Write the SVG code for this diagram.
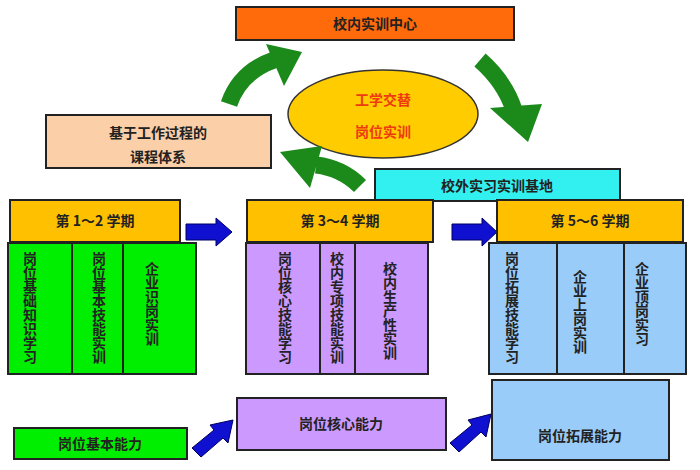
<svg xmlns="http://www.w3.org/2000/svg" width="700" height="470" viewBox="0 0 700 470">
<style>
rect{stroke:#222;stroke-width:2}
text{font-family:"Noto Sans CJK SC","Liberation Sans",sans-serif;font-weight:bold;fill:#222;text-anchor:middle}
.h{font-size:14px}
.v{font-size:14px;writing-mode:vertical-rl;text-anchor:start}
.g{fill:#1b8a1b;stroke:none}
.gs{fill:none;stroke:#1b8a1b;stroke-width:17}
.b{fill:#1010d0;stroke:#000060;stroke-width:1}
</style>
<rect width="700" height="470" style="fill:#fff;stroke:none"/>
<g id="center"><rect x="236" y="7" width="278" height="33" fill="#ff6a0a"/><text class="h" x="375" y="29">校内实训中心</text></g>
<g id="ellipse"><ellipse cx="383" cy="114" rx="95" ry="44" fill="#ffcc00" stroke="#333" stroke-width="1.5"/><text class="h" x="383" y="105" style="fill:#ee3a10">工学交替</text><text class="h" x="383" y="137" style="fill:#ee3a10">岗位实训</text></g>
<g id="course"><rect x="46" y="115" width="225" height="53" fill="#fbcfa8"/><text class="h" x="158" y="138">基于工作过程的</text><text class="h" x="158" y="162">课程体系</text></g>
<g id="outside"><rect x="375" y="169" width="245" height="32" fill="#33f0f0"/><text class="h" x="497" y="191">校外实习实训基地</text></g>
<g id="connectors">
<path class="gs" d="M229 104 Q240 72 274 60"/><polygon class="g" points="302,52 266,44 284,86"/>
<path class="gs" d="M480 60 Q505 82 514 110"/><polygon class="g" points="490,108 542,104 528,142"/>
<path class="gs" d="M360 186 Q342 168 316 165"/><polygon class="g" points="280,152 322,146 310,188"/>
<polygon class="b" points="186,224 216,224 216,218 232,232 216,246 216,240 186,240"/>
<polygon class="b" points="452,224 482,224 482,218 497,232 482,246 482,240 452,240"/>
<polygon class="b" points="192,448 214,430 210,425 233,420 228,443 223,438 201,457"/>
<polygon class="b" points="450,443 472,425 468,420 491,414 486,437 481,432 459,452"/>
</g>
<g id="sem1"><rect x="10" y="200" width="170" height="42" fill="#ffc000"/><text class="h" x="95" y="226">第 1～2 学期</text></g>
<g id="col1"><rect x="8" y="243" width="188" height="131" fill="#00ee00"/><line x1="72" y1="243" x2="72" y2="374" stroke="#222" stroke-width="2"/><line x1="123" y1="243" x2="123" y2="374" stroke="#222" stroke-width="2"/>
<text class="v" x="30" y="252">岗位基础知识学习</text><text class="v" x="99" y="252">岗位基本技能实训</text><text class="v" x="152" y="262">企业识岗实训</text></g>
<g id="sem2"><rect x="247" y="200" width="186" height="42" fill="#ffc000"/><text class="h" x="340" y="226">第 3～4 学期</text></g>
<g id="col2"><rect x="246" y="243" width="182" height="131" fill="#cc99ff"/><line x1="320" y1="243" x2="320" y2="374" stroke="#222" stroke-width="2"/><line x1="355" y1="243" x2="355" y2="374" stroke="#222" stroke-width="2"/>
<text class="v" x="285" y="252">岗位核心技能学习</text><text class="v" x="337" y="252">校内专项技能实训</text><text class="v" x="390" y="262">校内生产性实训</text></g>
<g id="sem3"><rect x="497" y="200" width="186" height="42" fill="#ffc000"/><text class="h" x="590" y="226">第 5～6 学期</text></g>
<g id="col3"><rect x="489" y="243" width="197" height="131" fill="#99ccf8"/><line x1="557" y1="243" x2="557" y2="374" stroke="#222" stroke-width="2"/><line x1="624" y1="243" x2="624" y2="374" stroke="#222" stroke-width="2"/>
<text class="v" x="512" y="252">岗位拓展技能学习</text><text class="v" x="580" y="270">企业上岗实训</text><text class="v" x="642" y="262">企业顶岗实习</text></g>
<g id="ab1"><rect x="14" y="428" width="173" height="31" fill="#00ee00"/><text class="h" x="100" y="449">岗位基本能力</text></g>
<g id="ab2"><rect x="237" y="398" width="209" height="52" fill="#cc99ff"/><text class="h" x="341" y="429">岗位核心能力</text></g>
<g id="ab3"><rect x="492" y="380" width="177" height="80" fill="#99ccf8"/><text class="h" x="580" y="441">岗位拓展能力</text></g>
</svg>
